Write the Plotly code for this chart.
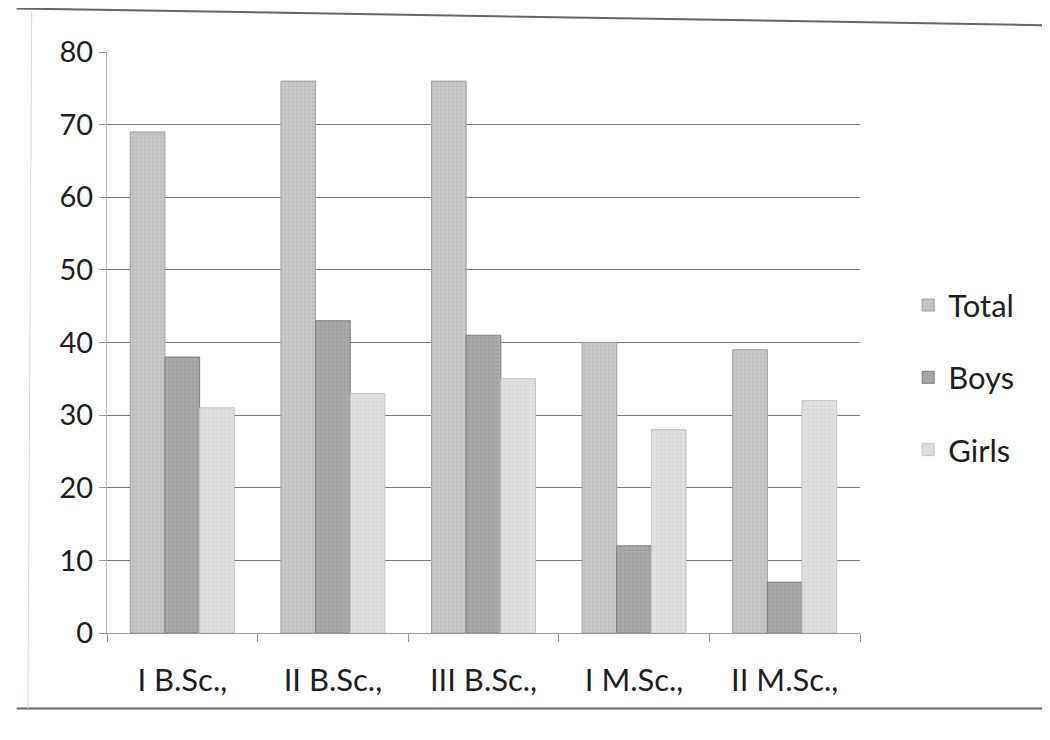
import plotly.graph_objects as go

categories = ["I B.Sc.,", "II B.Sc.,", "III B.Sc.,", "I M.Sc.,", "II M.Sc.,"]
total = [69, 76, 76, 40, 39]
boys = [38, 43, 41, 12, 7]
girls = [31, 33, 35, 28, 32]
y_ticks = [0, 10, 20, 30, 40, 50, 60, 70, 80]

FONT = "Lato"

fig = go.Figure()
series = [("Total", total, "#c6c6c6", "#a0a0a0"),
          ("Boys", boys, "#a9a9a9", "#7d7d7d"),
          ("Girls", girls, "#e0e0e0", "#c4c4c4")]
for name, vals, col, edge in series:
    fig.add_trace(go.Bar(
        x=categories, y=vals, name=name, legendgroup=name,
        marker=dict(color=col, line=dict(color=edge, width=1),
                    pattern=dict(shape=".", fgcolor=edge, size=4, solidity=0.15)),
    ))

fig.update_layout(
    width=1050, height=740,
    paper_bgcolor="white", plot_bgcolor="white",
    margin=dict(l=99, r=198, t=44, b=115),
    barmode="group", bargap=0.31, bargroupgap=0,
    font=dict(family=FONT, size=29, color="#1e1e1e"),
    legend=dict(x=1.064, y=0.44, xanchor="left", yanchor="middle",
                tracegroupgap=29, font=dict(family=FONT, size=31, color="#1e1e1e"),
                itemwidth=30),
    showlegend=True,
    shapes=[
        dict(type="line", xref="paper", yref="paper", x0=-0.12, x1=1.3, y0=1.075, y1=1.045,
             line=dict(color="#666", width=2)),
        dict(type="line", xref="paper", yref="paper", x0=-0.12, x1=1.3, y0=-0.13, y1=-0.13,
             line=dict(color="#666", width=2)),
        dict(type="line", xref="paper", yref="paper", x0=-0.1, x1=-0.105, y0=1.07, y1=-0.13,
             line=dict(color="#e2d6d6", width=1)),
    ],
)
fig.update_yaxes(
    range=[0, 80], tickvals=y_ticks, showgrid=True, gridcolor="#777", gridwidth=1,
    zeroline=False, showline=True, linecolor="#bbb", linewidth=1,
    ticks="outside", ticklen=7, tickcolor="#999",
    tickfont=dict(family=FONT, size=29, color="#1e1e1e"),
)
fig.update_xaxes(
    showline=True, linecolor="#999", linewidth=1,
    ticks="outside", tickson="boundaries", ticklen=8, tickcolor="#999",
    ticklabelstandoff=20,
    tickfont=dict(family=FONT, size=31, color="#1e1e1e"),
    showgrid=False,
)

fig.write_html("out.html")
